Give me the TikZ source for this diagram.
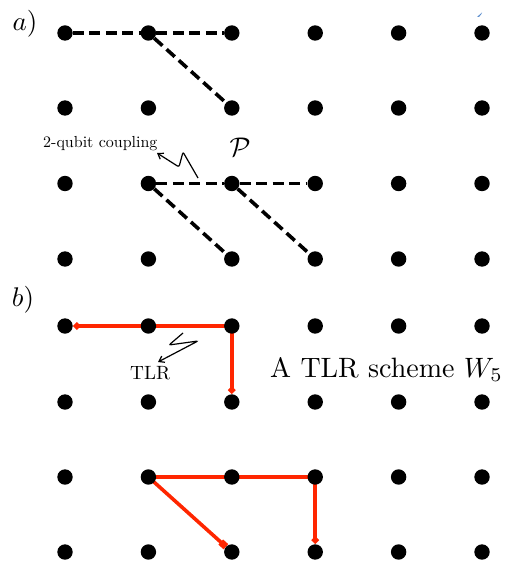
\documentclass[tikz,border=0pt]{standalone}
\usepackage{graphicx}
\usetikzlibrary{arrows.meta,backgrounds}
\definecolor{tlrred}{RGB}{255,38,0}
\definecolor{markblue}{RGB}{90,140,205}
\begin{document}
\begin{tikzpicture}[x=1pt,y=-1pt,
  dot/.style={circle,fill=black,inner sep=0pt,minimum size=15.4pt},
  coup/.style={line width=3.6pt,dash pattern=on 11pt off 5.5pt},
  tlr/.style={tlrred,line width=3.6pt},
  snk/.style={line width=1.2pt,rounded corners=2pt,-{Straight Barb[length=5pt,width=7pt]}},
  lbl/.style={inner sep=0pt,font=\fontsize{10}{12}\selectfont}]
\useasboundingbox (0,0) rectangle (515,564);
% dots
\foreach \y [count=\r] in {33,108,183.5,259}{
  \foreach \x [count=\c] in {65,148.4,231.8,315.2,398.6,482}{
    \node[dot] (a-\r-\c) at (\x,\y) {};
  }
}
\foreach \y [count=\r] in {326,402,477,552}{
  \foreach \x [count=\c] in {65,148.4,231.8,315.2,398.6,482}{
    \node[dot] (b-\r-\c) at (\x,\y) {};
  }
}
\begin{scope}[on background layer]
  % panel a couplings
  \draw[coup] (a-1-1) -- (a-1-2);
  \draw[coup] (a-1-2) -- (a-1-3);
  \draw[coup] (a-1-2) -- (a-2-3);
  \draw[coup] (a-3-2) -- (a-3-3);
  \draw[coup] (a-3-3) -- (a-3-4);
  \draw[coup] (a-3-2) -- (a-4-3);
  \draw[coup] (a-3-3) -- (a-4-4);
  % panel b TLR schemes
  \draw[tlr,{Diamond[length=8pt,width=8pt]}-{Diamond[length=8pt,width=8pt]}]
    (b-1-1) -- (b-1-3.center) -- (b-2-3);
  \draw[tlr,-{Diamond[length=8pt,width=8pt]}]
    (b-3-2.center) -- (b-3-4.center) -- (b-4-4);
  \draw[tlr,-{Square[length=7pt,width=7pt]}]
    (b-3-2.center) -- (b-4-3);
\end{scope}
% labels
\node[lbl] (la) at (25,23.5) {\scalebox{2.7}{$a)$}};
\node[lbl] (lb) at (23,300) {\scalebox{2.7}{$b)$}};
\node[lbl] (P) at (240,147) {\scalebox{2.7}{$\mathcal{P}$}};
\node[lbl,anchor=base west] (coupling) at (43,148) {\scalebox{1.6}{2-qubit coupling}};
\node[lbl,anchor=base west] (tlrlabel) at (130,379) {\scalebox{1.92}{TLR}};
\node[lbl,anchor=base west] (scheme) at (270,377) {\scalebox{2.8}{A TLR scheme $W_5$}};
% annotation arrows
\coordinate (cs) at (198,178);
\coordinate (ts) at (183,333);
\draw[snk] (cs) -- (183,152) -- (179,167) -- (157,153);
\draw[snk] (ts) -- (169,345) -- (198,341) -- (158,362);
% small blue mark
\fill[markblue] (477,17) -- (482,12.5) -- (481,14.5) -- (479,17) -- cycle;
\end{tikzpicture}
\end{document}
